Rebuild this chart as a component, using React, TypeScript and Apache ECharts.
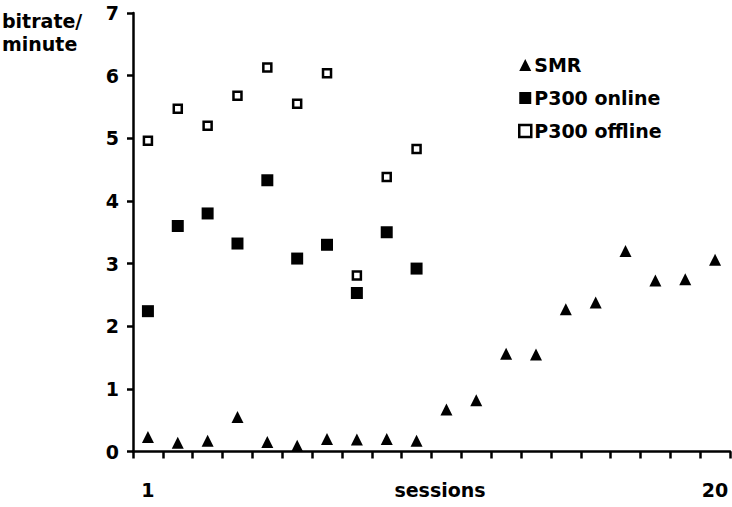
import React, { useEffect, useRef } from "react";
import * as echarts from "echarts";

const sessions = Array.from({ length: 20 }, (_, i) => String(i + 1));
const smr = [0.23, 0.14, 0.17, 0.55, 0.15, 0.09, 0.2, 0.19, 0.2, 0.17, 0.67, 0.82, 1.56, 1.55, 2.27, 2.38, 3.2, 2.73, 2.75, 3.06];
const p300Online = [2.24, 3.6, 3.8, 3.32, 4.33, 3.08, 3.3, 2.53, 3.5, 2.92];
const p300Offline = [4.96, 5.47, 5.2, 5.68, 6.13, 5.55, 6.04, 2.81, 4.38, 4.83];
const shownXLabels = ["1", "20"];

const FONT = "'DejaVu Sans', 'Liberation Sans', Arial, sans-serif";

export default function App() {
  const ref = useRef<HTMLDivElement>(null);
  useEffect(() => {
    if (!ref.current) return;
    const chart = echarts.init(ref.current, null, { renderer: "svg" });
    const textBase = { fontFamily: FONT, fontWeight: "bold" as const, fontSize: 19, color: "#000" };
    chart.setOption({
      animation: false,
      backgroundColor: "#fff",
      grid: { left: 133, right: 2, top: 13, bottom: 55.5, outerBoundsMode: "none", containLabel: false },
      xAxis: {
        type: "category",
        data: sessions,
        boundaryGap: true,
        name: "sessions",
        nameLocation: "middle",
        nameGap: 38,
        nameMoveOverlap: false,
        nameTextStyle: { ...textBase, padding: [0, 0, 0, 17], verticalAlign: "middle" },
        axisLine: { lineStyle: { color: "#000", width: 2.5 } },
        axisTick: { show: true, interval: 0, length: 7, lineStyle: { color: "#000", width: 2.5 } },
        axisLabel: {
          ...textBase,
          interval: 0,
          margin: 38,
          verticalAlign: "middle",
          formatter: (v: string) => (shownXLabels.includes(v) ? v : ""),
        },
        splitLine: { show: false },
      },
      yAxis: {
        type: "value",
        min: 0,
        max: 7,
        interval: 1,
        axisLine: { show: true, lineStyle: { color: "#000", width: 2.5 } },
        axisTick: { show: true, length: 6, lineStyle: { color: "#000", width: 2.5 } },
        axisLabel: { ...textBase, margin: 14 },
        splitLine: { show: false },
      },
      legend: {
        orient: "vertical",
        left: 513,
        top: 50,
        itemGap: 13,
        itemWidth: 12,
        itemHeight: 12,
        textStyle: { ...textBase, lineHeight: 20, padding: [0, 0, 0, -2] },
        data: [
          { name: "SMR", icon: "triangle", itemStyle: { color: "#000", opacity: 1 } },
          { name: "P300 online", icon: "rect", itemStyle: { color: "#000", opacity: 1 } },
          {
            name: "P300 offline",
            icon: "rect",
            itemStyle: { color: "#fff", borderColor: "#000", borderWidth: 2.5, opacity: 1 },
          },
        ],
      },
      graphic: [
        {
          type: "text",
          left: 2,
          top: 9,
          style: { text: "bitrate/\nminute", font: `bold 19px ${FONT}`, fill: "#000", lineHeight: 23 },
        },
      ],
      series: [
        {
          name: "SMR",
          type: "scatter",
          symbol: "triangle",
          symbolSize: 12,
          itemStyle: { color: "#000", opacity: 1 },
          data: smr,
        },
        {
          name: "P300 online",
          type: "scatter",
          symbol: "rect",
          symbolSize: 12,
          itemStyle: { color: "#000", opacity: 1 },
          data: p300Online,
        },
        {
          name: "P300 offline",
          type: "scatter",
          symbol: "rect",
          symbolSize: 8,
          itemStyle: { color: "#fff", borderColor: "#000", borderWidth: 2.5, opacity: 1 },
          data: p300Offline,
        },
      ],
    });
    return () => chart.dispose();
  }, []);
  return (
    <div
      ref={ref}
      style={{ position: "absolute", left: 0, top: 0, width: 732, height: 507, background: "#fff" }}
    />
  );
}
